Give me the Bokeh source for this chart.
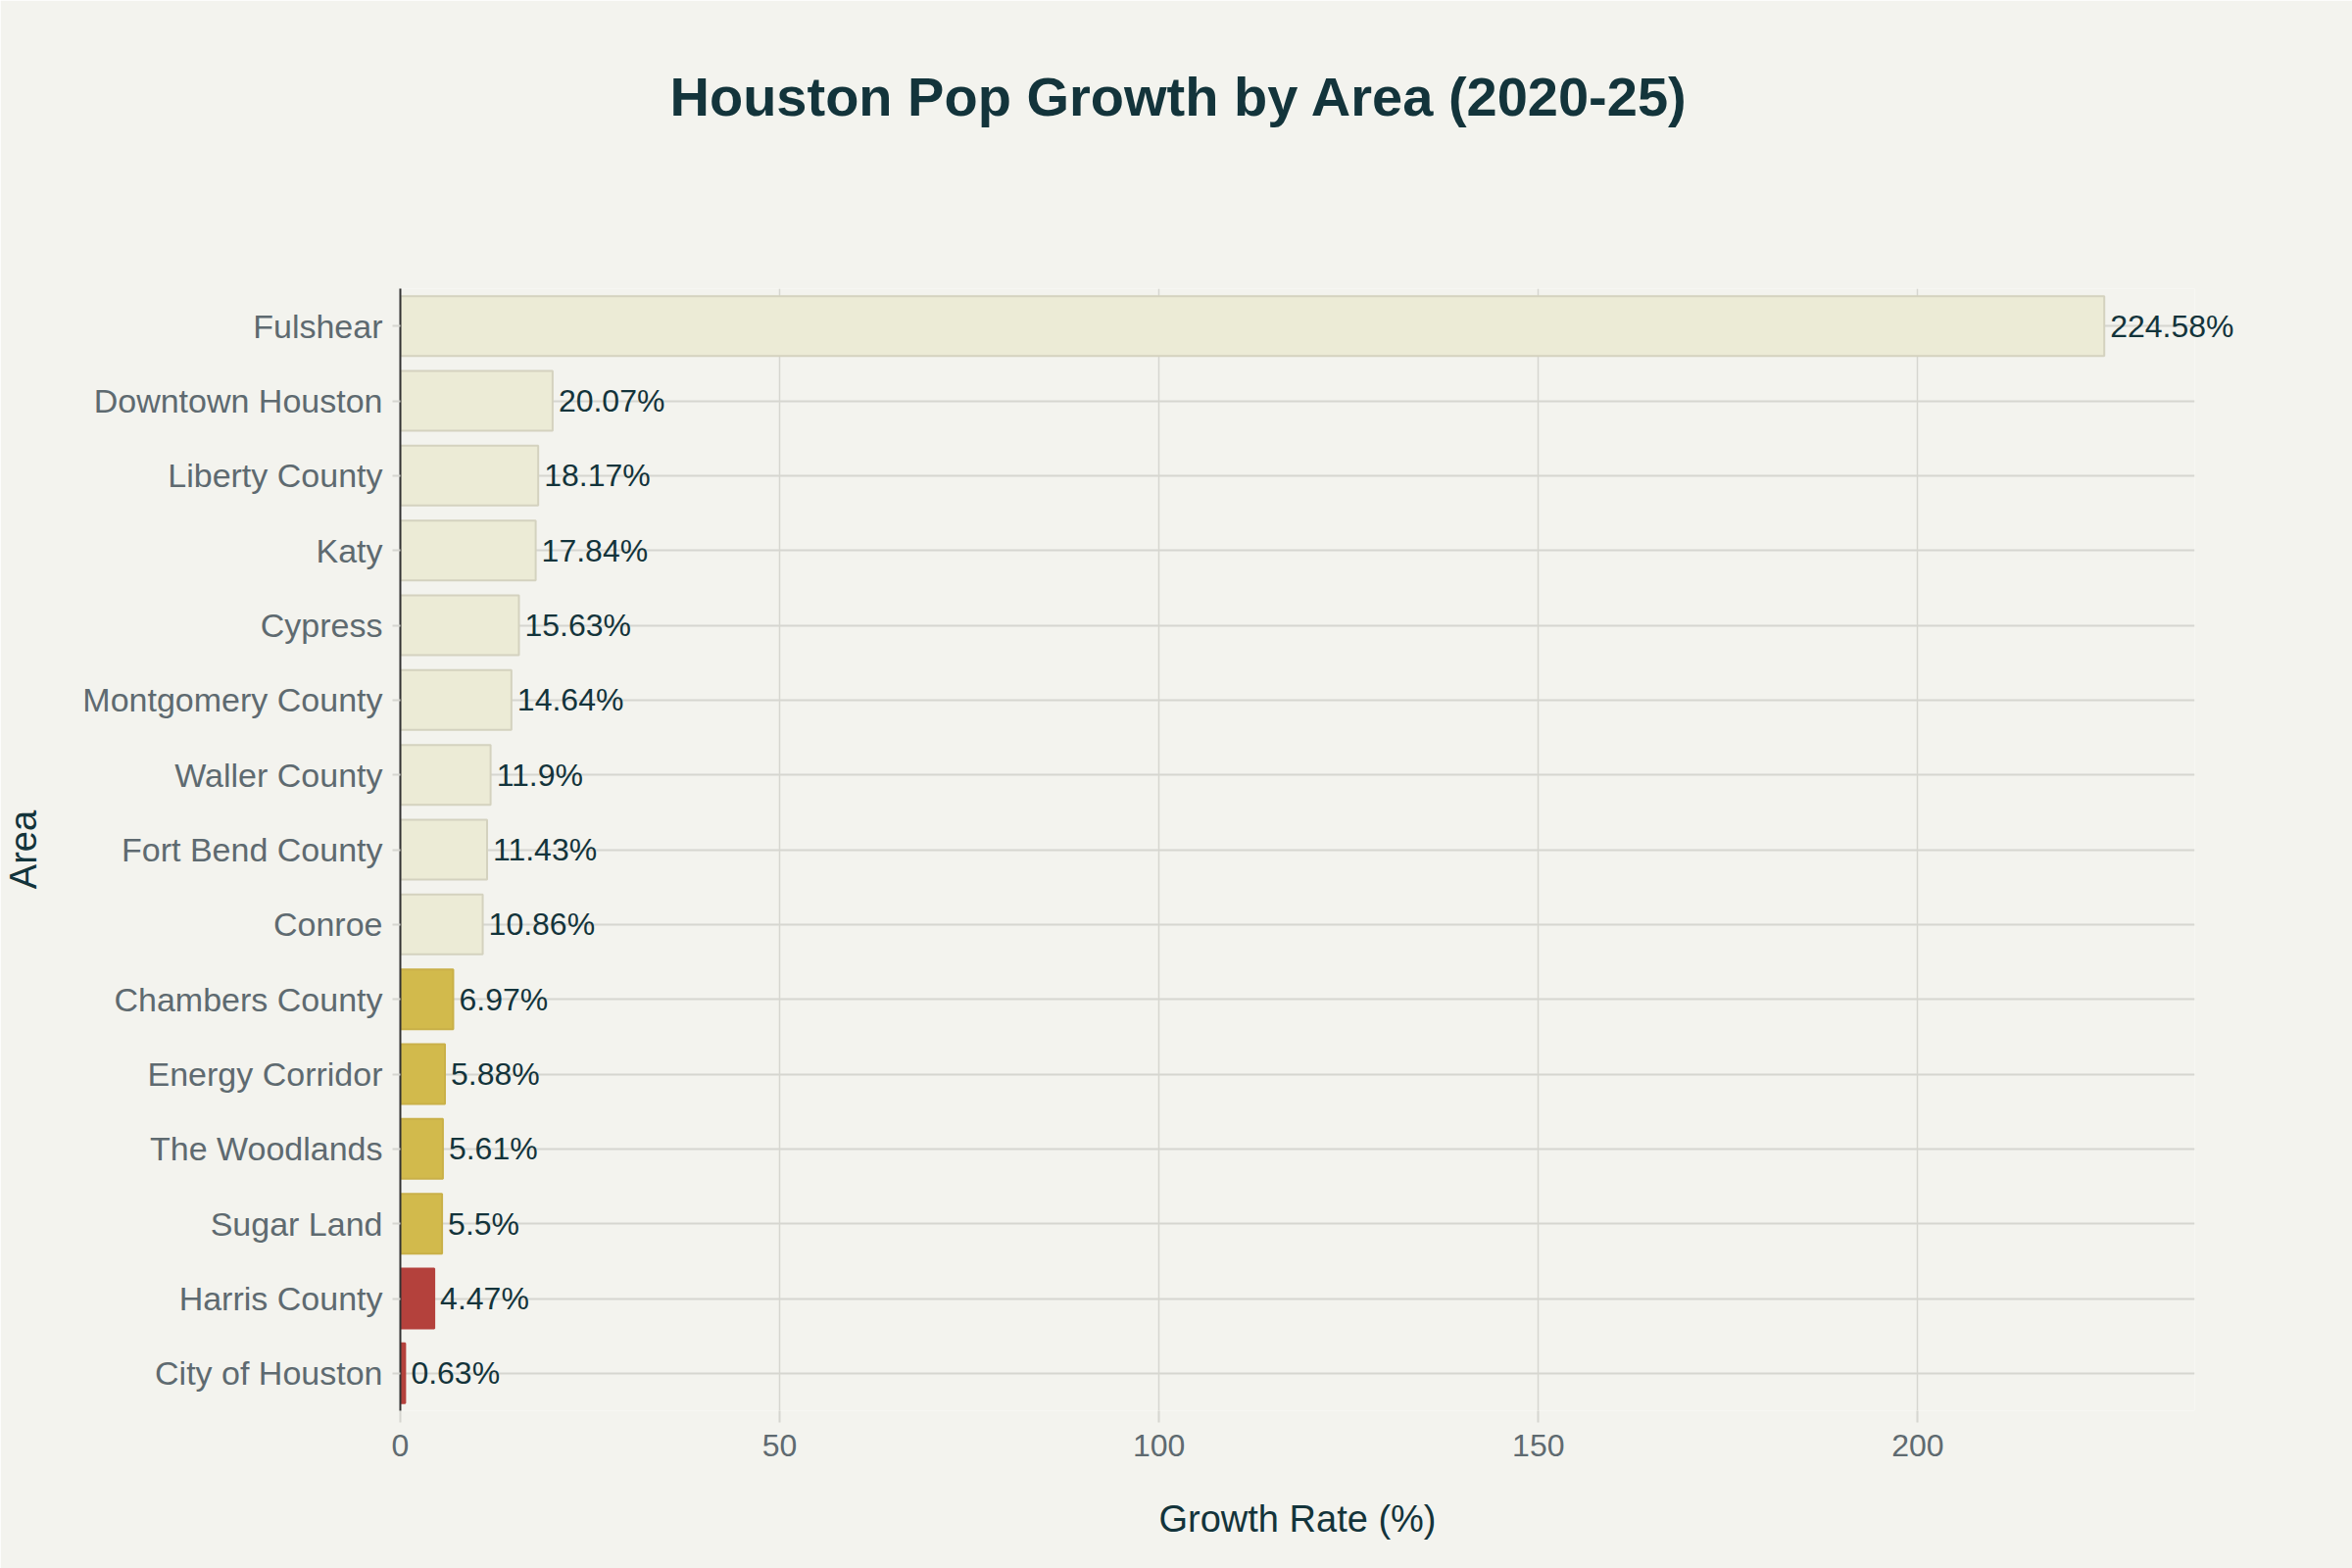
from bokeh.plotting import figure
from bokeh.models import (FactorRange, Range1d, ColumnDataSource,
                          SingleIntervalTicker, Title)
from bokeh.core.properties import value
from bokeh.embed import file_html
from bokeh.resources import INLINE

# Data (bottom to top)
areas = ["City of Houston", "Harris County", "Sugar Land", "The Woodlands",
         "Energy Corridor", "Chambers County", "Conroe", "Fort Bend County",
         "Waller County", "Montgomery County", "Cypress", "Katy",
         "Liberty County", "Downtown Houston", "Fulshear"]
growth = [0.63, 4.47, 5.5, 5.61, 5.88, 6.97, 10.86, 11.43, 11.9, 14.64,
          15.63, 17.84, 18.17, 20.07, 224.58]
labels = [f"{v}%" for v in growth]
title_text = "Houston Pop Growth by Area (2020-25)"

LIGHT, LIGHT_LINE = "#ECEBD6", "#D4D2BF"
GOLD, GOLD_LINE = "#D2BA4C", "#C9B048"
RED, RED_LINE = "#B4413C", "#B4413C"

fills, lines = [], []
for v in growth:
    if v < 5:
        fills.append(RED); lines.append(RED_LINE)
    elif v < 10:
        fills.append(GOLD); lines.append(GOLD_LINE)
    else:
        fills.append(LIGHT); lines.append(LIGHT_LINE)

src = ColumnDataSource(dict(area=areas, growth=growth, label=labels,
                            fill=fills, line=lines))

FONT = "Liberation Sans"
BG = "#F3F3EE"
DARK = "#13343B"
GREY = "#5E6A70"
GRID = "#D6D6D0"

W, H = 2400, 1600
LEFT, RIGHT, BOTTOM = 407, 161, 161

p = figure(width=W, height=H, y_range=FactorRange(*areas),
           x_range=Range1d(0, 236.5), output_backend="svg",
           toolbar_location=None,
           min_border_left=LEFT, min_border_right=RIGHT,
           min_border_bottom=BOTTOM, min_border_top=0)
p.background_fill_color = BG
p.border_fill_color = BG
p.outline_line_color = None

# spacer between frame and title, then the main title (outermost)
p.title.text = ""
p.add_layout(Title(text=" ", text_font_size="10px", standoff=88,
                   text_color=BG), "above")
p.add_layout(Title(text=title_text, align="left", offset=275, standoff=128,
                   text_font=FONT, text_font_size="56px",
                   text_font_style="bold", text_color=DARK), "above")

p.hbar(y="area", right="growth", left=0, height=0.8, source=src,
       fill_color="fill", line_color="line", line_width=2)

p.text(x="growth", y="area", text="label", source=src,
       x_offset=6, text_baseline="middle", text_align="left",
       text_font=value(FONT), text_font_size="32px", text_color=DARK,
       level="overlay")

# Axes
p.xaxis.ticker = SingleIntervalTicker(interval=50)
p.xaxis.axis_label = "Growth Rate (%)"
p.yaxis.axis_label = "Area"
for ax in (p.xaxis[0], p.yaxis[0]):
    ax.axis_label_text_font = FONT
    ax.axis_label_text_font_style = "normal"
    ax.axis_label_text_font_size = "38px"
    ax.axis_label_text_color = DARK
    ax.major_label_text_font = FONT
    ax.major_label_text_color = GREY
    ax.minor_tick_line_color = None
    ax.major_tick_in = 0
    ax.major_tick_line_color = GRID
    ax.major_tick_line_width = 2

p.xaxis.major_label_text_font_size = "32px"
p.yaxis.major_label_text_font_size = "34px"
p.xaxis.axis_line_color = None
p.xaxis.major_tick_out = 12
p.xaxis.major_label_standoff = 12
p.xaxis.axis_label_standoff = 40
p.yaxis.axis_line_color = "#333333"
p.yaxis.axis_line_width = 2
p.yaxis.major_tick_out = 8
p.yaxis.major_label_standoff = 10
p.yaxis.axis_label_standoff = 36

p.xgrid.grid_line_color = GRID
p.xgrid.grid_line_width = 1.5
p.ygrid.grid_line_color = GRID
p.ygrid.grid_line_width = 2

open("out.html", "w").write(file_html(p, INLINE))
